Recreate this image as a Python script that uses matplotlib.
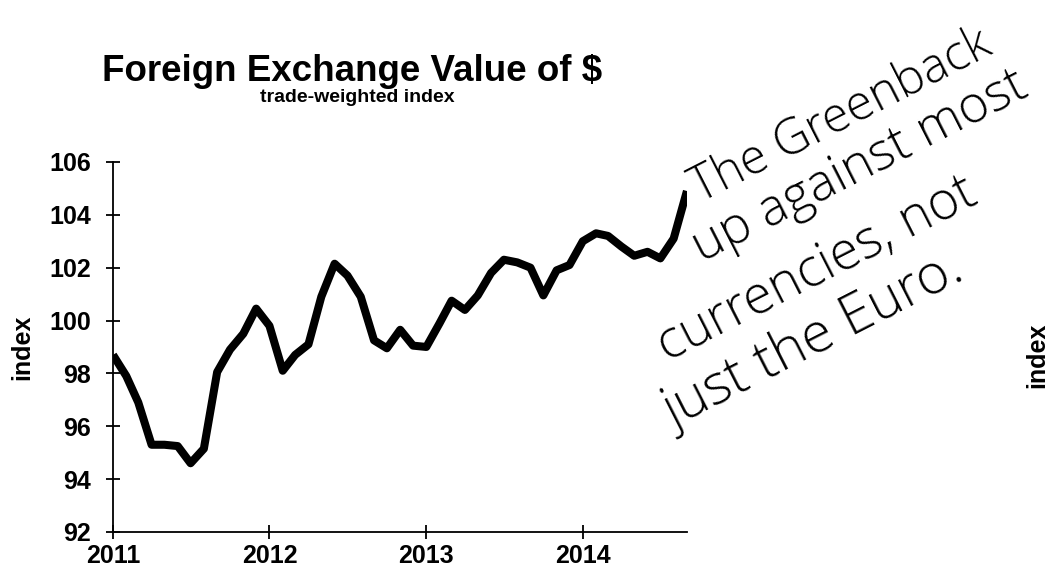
import numpy as np
import pandas as pd
import matplotlib
matplotlib.use('Agg')
import matplotlib.pyplot as plt

# monthly trade-weighted dollar index, Jan 2011 - Sep 2014
start_month = '2011-01-01'
index_values = [98.7, 97.9, 96.9, 95.3, 95.3, 95.25, 94.6, 95.15, 98.05, 98.9, 99.5, 100.45,
                99.8, 98.1, 98.7, 99.1, 100.9, 102.15, 101.7, 100.9, 99.25, 98.95, 99.65, 99.05,
                99.0, 99.9, 100.75, 100.4, 100.95, 101.8, 102.3, 102.2, 102.0, 100.95, 101.9, 102.1,
                103.0, 103.3, 103.2, 102.8, 102.45, 102.6, 102.35, 103.1, 104.9]
year_ticks = ['2011', '2012', '2013', '2014']
y_ticks = [92, 94, 96, 98, 100, 102, 104, 106]

title = 'Foreign Exchange Value of $'
subtitle = 'trade-weighted index'
note_lines = ['The Greenback', 'up against most', 'currencies, not', 'just the Euro.']

dates = pd.date_range(start_month, periods=len(index_values), freq='MS')

plt.rcParams['font.family'] = ['Liberation Sans', 'DejaVu Sans']

W, H = 1057, 580
fig = plt.figure(figsize=(W / 100, H / 100), dpi=100)
ax = fig.add_axes([0.1069, 0.0828, 0.543, 0.638])

ax.plot(dates, index_values, color='black', linewidth=5.8,
        solid_joinstyle='round', solid_capstyle='butt')

ax.set_xlim(dates[0], dates[-1])
ax.set_ylim(92, 106)
ax.set_yticks(y_ticks)
ax.set_yticklabels([str(v) for v in y_ticks])
ax.set_xticks(pd.to_datetime([y + '-01-01' for y in year_ticks]))
ax.set_xticklabels(year_ticks)

for s in ['top', 'right']:
    ax.spines[s].set_visible(False)
for s in ['left', 'bottom']:
    ax.spines[s].set_linewidth(1.3)
    ax.spines[s].set_color('black')

ax.tick_params(axis='both', direction='inout', length=10, width=1.3, colors='black',
               labelsize=18)
ax.tick_params(axis='y', pad=11)
ax.tick_params(axis='x', pad=4)
for lab in ax.get_xticklabels() + ax.get_yticklabels():
    lab.set_fontweight('bold')

fig.text(22.5 / W, 0.402, 'index', rotation=90, ha='center', va='center',
         fontsize=18, fontweight='bold')
fig.text(1037 / W, 1 - 355 / H, 'index', rotation=90, ha='center', va='center',
         fontsize=18, fontweight='bold')

fig.text(102 / W, 1 - 81 / H, title, ha='left', va='baseline',
         fontsize=26.5, fontweight='bold')
fig.text(260 / W, 1 - 102 / H, subtitle, ha='left', va='baseline',
         fontsize=14, fontweight='bold')

# handwritten note, one line at a time
note_starts = [(700, 203), (702, 262), (667, 362), (674, 428)]
note_sizes = [35, 37, 38, 40]
for line, (px, py), fs in zip(note_lines, note_starts, note_sizes):
    fig.text(px / W, 1 - py / H, line, rotation=27, rotation_mode='anchor',
             ha='left', va='baseline', fontsize=fs, family=['Open Sans', 'DejaVu Sans'],
             fontweight='light', color='black')

fig.savefig('out.png', dpi=100)
